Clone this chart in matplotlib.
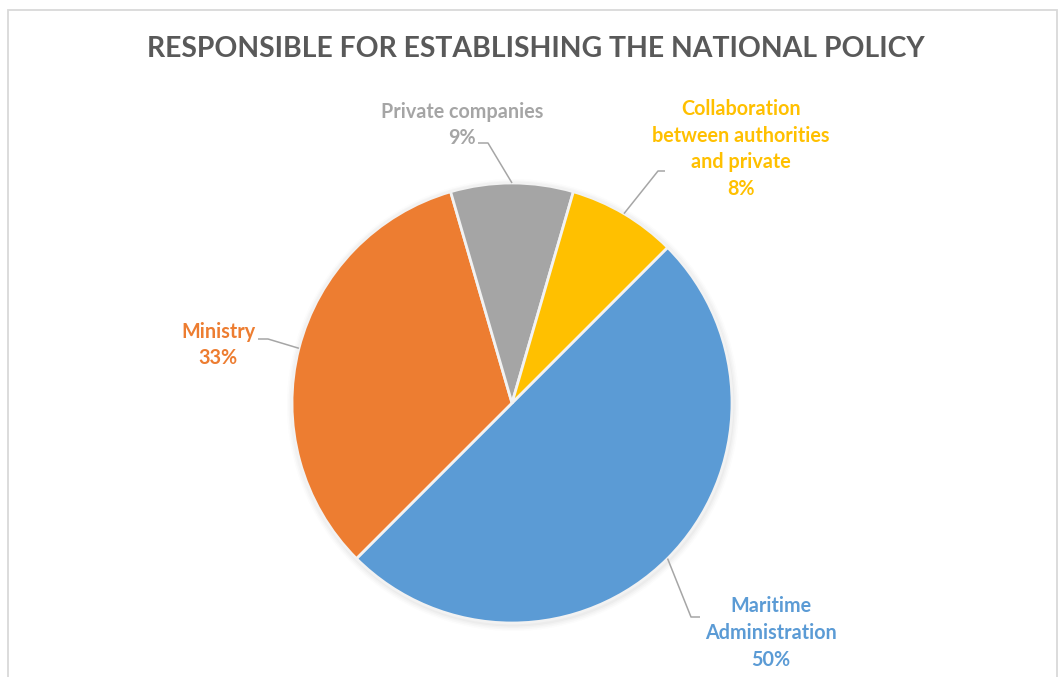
import numpy as np
import matplotlib
matplotlib.use("Agg")
import matplotlib.pyplot as plt
from matplotlib.patches import Rectangle, Circle

# ---- data ----
categories = ["Maritime\nAdministration", "Ministry", "Private companies",
              "Collaboration\nbetween authorities\nand private"]
values = [50, 33, 9, 8]
colors = ["#5B9BD5", "#ED7D31", "#A5A5A5", "#FFC000"]
title = "RESPONSIBLE FOR ESTABLISHING THE NATIONAL POLICY"

W, H = 1058, 677
fig = plt.figure(figsize=(W / 100, H / 100), dpi=100)
ax = fig.add_axes([0, 0, 1, 1])

def py(y):  # convert top-origin pixel y to data y
    return H - y

cx, cy, R = 512, py(403), 220

# soft shadow
for i, a in enumerate([0.05, 0.04, 0.03, 0.02]):
    ax.add_patch(Circle((cx + 1, cy - 2), R + 1.5 + i * 1.5, color="#7F7F7F",
                        alpha=a, lw=0, zorder=0))

wedges, _ = ax.pie(values, colors=colors, startangle=45, counterclock=False,
                   center=(cx, cy), radius=R,
                   wedgeprops=dict(edgecolor="#F2F2F2", linewidth=2.0))
ax.set_xlim(0, W)
ax.set_ylim(0, H)
ax.set_aspect("equal")
ax.axis("off")

# chart border
ax.add_patch(Rectangle((8, py(H + 5)), W - 1 - 8, H + 5 - 10, fill=False,
                       edgecolor="#D9D9D9", lw=1.3, zorder=5))

ax.text(536, py(49), title, ha="center", va="center", fontsize=20.4,
        fontweight="bold", color="#595959", family="Lato")

# label layout: (text center x, text center y, leader points from label side)
label_pos = [
    (771, 633, [(700, 617), (691, 617)]),
    (218, 345, [(258, 339), (268, 339)]),
    (462, 125, [(478, 143), (488, 143)]),
    (741, 149, [(665, 171), (658, 171)]),
]

for w, cat, val, col, (lx, ly, pts) in zip(wedges, categories, values, colors, label_pos):
    ax.text(lx, py(ly), f"{cat}\n{val:.0f}%", ha="center", va="center",
            fontsize=14.2, fontweight="bold", color=col, family="Lato",
            linespacing=1.42, zorder=6)
    mid = np.deg2rad((w.theta1 + w.theta2) / 2)
    ex, ey = cx + R * np.cos(mid), cy + R * np.sin(mid)
    xs = [p[0] for p in pts] + [ex]
    ys = [py(p[1]) for p in pts] + [ey]
    ax.plot(xs, ys, color="#A6A6A6", lw=1.1, zorder=4, solid_capstyle="butt")

fig.savefig("out.png", dpi=100)
